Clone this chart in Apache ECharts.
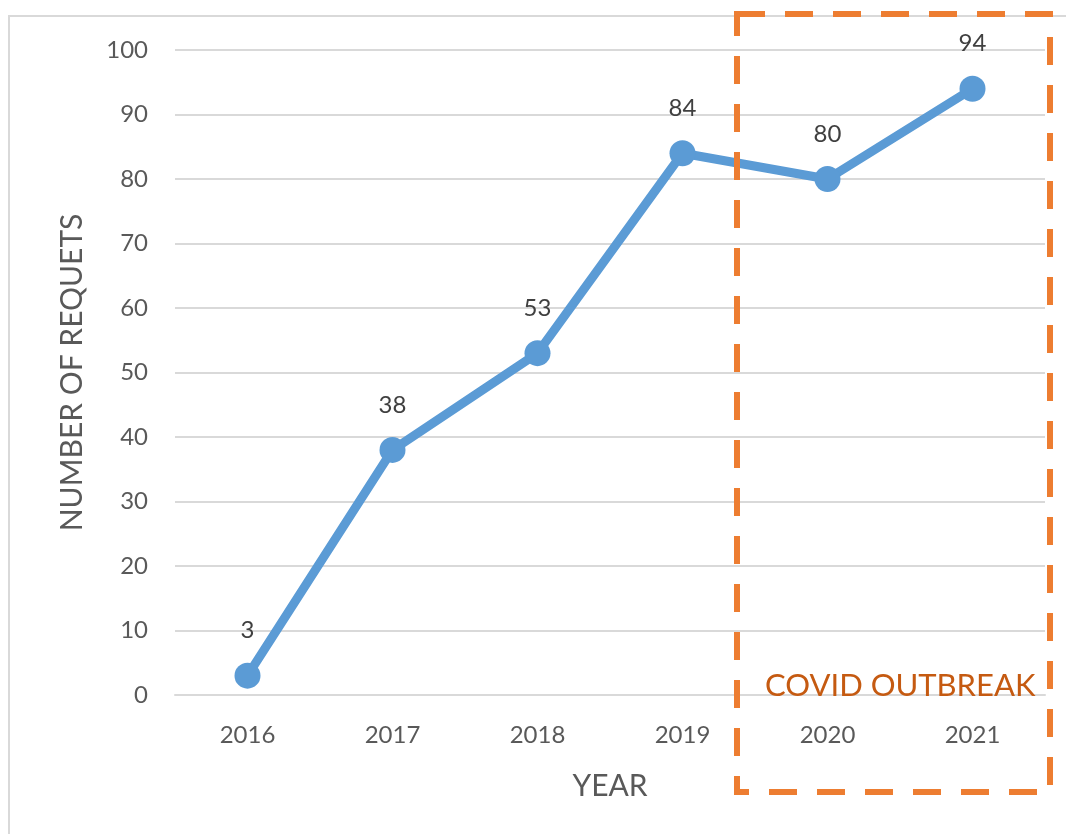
<!DOCTYPE html>
<html>
<head>
<meta charset="utf-8">
<script src="https://cdn.jsdelivr.net/npm/echarts@6/dist/echarts.min.js"></script>
<style>
  html, body { margin: 0; padding: 0; background: #fff; }
  #chart { width: 1066px; height: 834px; }
</style>
</head>
<body>
<div id="chart"></div>
<script>
const years = ['2016', '2017', '2018', '2019', '2020', '2021']
const requests = [3, 38, 53, 84, 80, 94]
const yTicks = { min: 0, max: 100, interval: 10 }

const font = 'Lato, "Open Sans", sans-serif'
const chart = echarts.init(document.getElementById('chart'))

chart.setOption({
  backgroundColor: '#fff',
  animation: false,
  grid: { left: 175, right: 21, top: 50, bottom: 139 },
  xAxis: {
    type: 'category',
    data: years,
    name: 'YEAR',
    nameLocation: 'middle',
    nameGap: 76,
    nameTextStyle: { fontFamily: font, fontSize: 30, color: '#595959' },
    axisLine: { lineStyle: { color: '#D9D9D9', width: 2 } },
    axisTick: { show: false },
    axisLabel: { fontFamily: font, fontSize: 24, color: '#595959', margin: 28 }
  },
  yAxis: {
    type: 'value',
    min: yTicks.min,
    max: yTicks.max,
    interval: yTicks.interval,
    name: 'NUMBER OF REQUETS',
    nameLocation: 'middle',
    nameGap: 88,
    nameTextStyle: { fontFamily: font, fontSize: 30, color: '#595959' },
    axisLine: { show: false },
    axisTick: { show: false },
    axisLabel: { fontFamily: font, fontSize: 24, color: '#595959', margin: 27 },
    splitLine: { lineStyle: { color: '#D9D9D9', width: 2 } }
  },
  series: [{
    type: 'line',
    data: requests,
    symbol: 'circle',
    symbolSize: 26,
    lineStyle: { color: '#5B9BD5', width: 9 },
    itemStyle: { color: '#5B9BD5' },
    label: {
      show: true,
      position: 'top',
      distance: 20,
      fontFamily: font,
      fontSize: 24,
      color: '#404040'
    }
  }],
  graphic: [
    {
      type: 'rect',
      shape: { x: 9, y: 16, width: 1070, height: 830 },
      style: { fill: null, stroke: '#D9D9D9', lineWidth: 2 },
      z: -1
    },
    {
      type: 'rect',
      shape: { x: 737, y: 14, width: 313, height: 778 },
      style: { fill: null, stroke: '#ED7D31', lineWidth: 6, lineDash: [28, 20] },
      z: 10
    },
    {
      type: 'text',
      left: 765,
      top: 670,
      style: { text: 'COVID OUTBREAK', fontFamily: font, fontSize: 31, fill: '#C55A11' },
      z: 11
    }
  ]
})
</script>
</body>
</html>
